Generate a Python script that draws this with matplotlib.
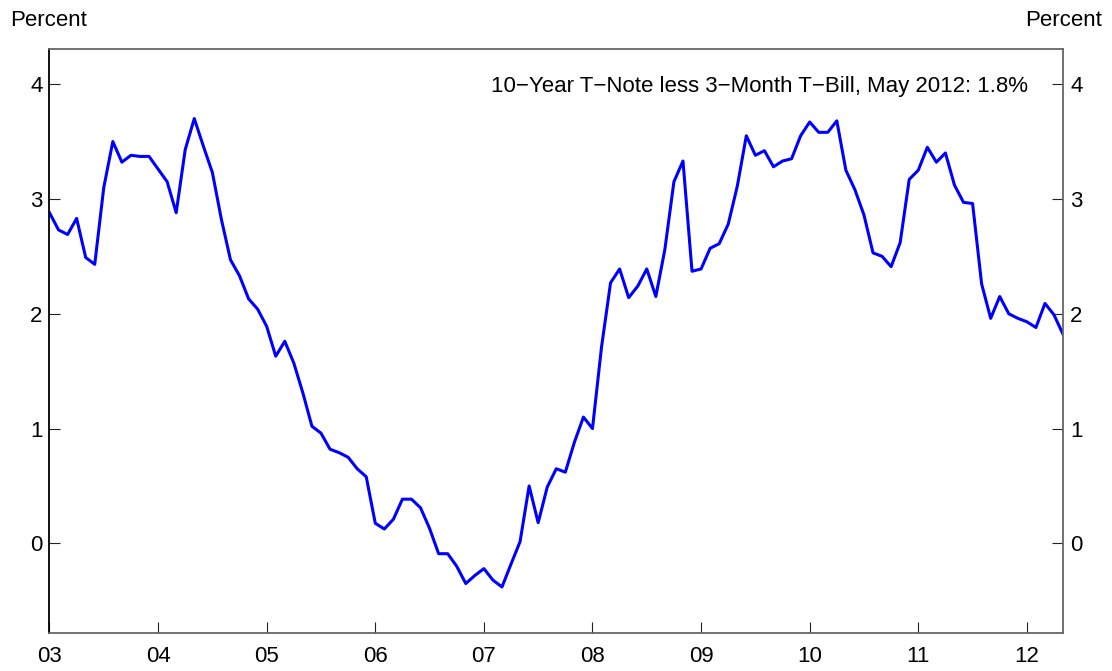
import numpy as np
import pandas as pd
import matplotlib
matplotlib.use('Agg')
import matplotlib.pyplot as plt

plt.rcParams['font.family'] = ['Liberation Sans', 'DejaVu Sans']

# 10-year T-note less 3-month T-bill, monthly, Jan 2003 - May 2012
spread = [
    2.88, 2.73, 2.69, 2.83, 2.49, 2.43, 3.10, 3.50, 3.32, 3.38, 3.37, 3.37,  # 2003
    3.26, 3.15, 2.88, 3.43, 3.70, 3.46, 3.23, 2.82, 2.47, 2.33, 2.13, 2.04,  # 2004
    1.89, 1.63, 1.76, 1.57, 1.31, 1.02, 0.96, 0.82, 0.79, 0.75, 0.65, 0.58,  # 2005
    0.175, 0.125, 0.21, 0.385, 0.385, 0.31, 0.13, -0.09, -0.09, -0.20, -0.35, -0.28,  # 2006
    -0.22, -0.32, -0.38, -0.18, 0.015, 0.50, 0.18, 0.49, 0.65, 0.62, 0.88, 1.10,  # 2007
    1.00, 1.71, 2.27, 2.39, 2.14, 2.24, 2.39, 2.15, 2.56, 3.15, 3.33, 2.37,  # 2008
    2.39, 2.57, 2.61, 2.78, 3.11, 3.55, 3.38, 3.42, 3.28, 3.33, 3.35, 3.55,  # 2009
    3.67, 3.58, 3.58, 3.68, 3.25, 3.08, 2.86, 2.53, 2.50, 2.41, 2.62, 3.17,  # 2010
    3.25, 3.45, 3.32, 3.40, 3.12, 2.97, 2.96, 2.26, 1.96, 2.15, 2.00, 1.96,  # 2011
    1.93, 1.88, 2.09, 1.99, 1.82,  # 2012
]
dates = pd.date_range('2003-01-01', periods=len(spread), freq='MS')
xvals = dates.year + (dates.month - 1) / 12.0

years = list(range(2003, 2013))
year_labels = ['03', '04', '05', '06', '07', '08', '09', '10', '11', '12']
yticks = [0, 1, 2, 3, 4]

fig = plt.figure(figsize=(11.12, 6.71), dpi=100)
ax = fig.add_axes([0.0445, 0.0559, 0.9115, 0.8718])
ax.plot(xvals, spread, color='#0000ff', lw=2.2)

ax.set_xlim(2003, 2012 + 4 / 12)
ax.set_ylim(-0.785, 4.31)
ax.set_xticks(years)
ax.set_xticklabels(year_labels)
ax.set_yticks(yticks)
ax.tick_params(axis='both', direction='in', length=8, labelsize=16, color='#222222')
ax.tick_params(axis='y', right=True, labelright=True, pad=5)
ax.tick_params(axis='x', pad=9)
for s in ax.spines.values():
    s.set_color('#666666')
    s.set_linewidth(1.3)
ax.spines['left'].set_color('black')

ax.text(0.9655, 0.925, '10\u2212Year T\u2212Note less 3\u2212Month T\u2212Bill, May 2012: 1.8%',
        transform=ax.transAxes, ha='right', va='baseline', fontsize=16)
fig.text(0.009, 0.97, 'Percent', ha='left', va='center', fontsize=16)
fig.text(0.991, 0.97, 'Percent', ha='right', va='center', fontsize=16)

plt.savefig('out.png', dpi=100)
